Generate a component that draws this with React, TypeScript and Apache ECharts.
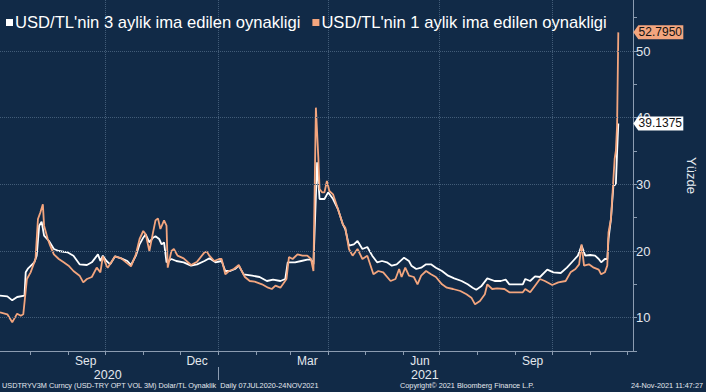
import React, { useEffect, useRef } from "react";
import * as echarts from "echarts";

// Calendar: day 0 = 2020-07-07; axis runs to 2021-12-06
const START_UTC = Date.UTC(2020, 6, 7);
const TOTAL_DAYS = 517;

// Tick labels
const monthLabels = ["Sep", "Dec", "Mar", "Jun", "Sep"];
const monthLabelDates = ["2020-09-15", "2020-12-15", "2021-03-15", "2021-06-15", "2021-09-15"];
const yearLabels = ["2020", "2021"];
const yearLabelDates = ["2020-10-03", "2021-06-19"];
const yearSeparatorDates = ["2021-01-01"];
const quarterGridDates = ["2020-10-01", "2021-01-01", "2021-04-01", "2021-07-01", "2021-10-01"];
const yGridValues = [10, 20, 30, 40, 50];

// USD/TL 3M implied vol (day offset from 2020-07-07, value)
const days3m = [0, 6, 10, 14, 20, 21, 23, 28, 30, 32, 34, 36, 40, 44, 48, 55, 60, 65, 71, 75, 80, 82, 84, 87, 90, 94, 99, 104, 107, 111, 114, 117, 119, 122, 125, 127, 130, 132, 134, 136, 140, 144, 150, 156, 161, 167, 171, 176, 181, 184, 188, 192, 195, 199, 206, 212, 218, 223, 229, 233, 235, 241, 246, 251, 254, 256, 259, 261, 265, 268, 272, 276, 280, 282, 285, 289, 292, 296, 300, 304, 308, 312, 316, 320, 324, 330, 334, 336, 340, 344, 348, 352, 356, 361, 366, 371, 377, 382, 386, 389, 393, 398, 404, 409, 413, 416, 421, 427, 429, 433, 437, 441, 447, 452, 458, 463, 468, 472, 475, 478, 482, 486, 489, 491, 494, 496, 497, 499, 501, 503, 504, 505];
const vol3m = [13.3, 13.2, 12.6, 13.1, 13.3, 16.8, 17.4, 18.3, 19.3, 23.8, 24.4, 22.3, 21.5, 20.3, 20.0, 19.8, 19.3, 18.0, 17.9, 18.3, 19.5, 18.5, 19.3, 18.5, 18.0, 19.2, 18.9, 18.5, 17.9, 19.3, 21.0, 22.0, 22.5, 21.3, 22.0, 22.2, 21.8, 21.0, 21.3, 18.3, 18.8, 18.5, 18.3, 17.8, 18.0, 18.5, 18.9, 18.3, 18.5, 17.0, 17.0, 17.3, 17.8, 16.5, 16.3, 16.1, 15.5, 15.7, 15.5, 15.8, 18.3, 18.3, 18.5, 18.7, 18.7, 18.0, 33.3, 27.8, 27.8, 28.8, 27.8, 26.3, 24.0, 23.3, 20.8, 21.0, 21.5, 20.3, 20.6, 19.3, 18.3, 18.5, 18.3, 17.8, 18.0, 19.0, 18.5, 17.8, 17.3, 17.5, 18.0, 18.0, 17.5, 17.0, 16.3, 15.9, 15.5, 15.0, 14.5, 14.2, 14.7, 15.9, 15.5, 15.5, 15.7, 15.0, 15.0, 15.0, 15.8, 15.5, 16.2, 16.1, 17.2, 16.8, 16.7, 17.5, 18.5, 19.3, 20.8, 19.3, 19.4, 19.3, 18.8, 18.3, 18.8, 18.8, 21.8, 24.8, 29.8, 30.0, 34.8, 39.1375];

// USD/TL 1M implied vol (day offset from 2020-07-07, value)
const days1m = [0, 6, 10, 14, 17, 19, 22, 25, 29, 31, 33, 35, 36, 39, 41, 44, 48, 52, 56, 60, 65, 68, 71, 75, 79, 82, 84, 87, 88, 94, 99, 107, 111, 114, 117, 119, 122, 125, 127, 129, 131, 134, 136, 137, 140, 142, 145, 150, 156, 161, 167, 169, 171, 175, 179, 181, 184, 187, 191, 195, 198, 200, 204, 208, 214, 219, 222, 225, 229, 231, 234, 236, 239, 243, 247, 251, 254, 256, 258, 260, 261, 263, 265, 267, 269, 272, 276, 280, 282, 285, 288, 292, 296, 300, 305, 309, 313, 319, 323, 326, 328, 331, 334, 338, 341, 344, 348, 352, 356, 361, 365, 370, 376, 381, 385, 388, 392, 396, 398, 402, 406, 412, 416, 421, 427, 429, 433, 437, 441, 445, 451, 456, 462, 466, 470, 473, 475, 477, 481, 485, 489, 491, 494, 496, 497, 499, 501, 502, 503, 504, 505];
const vol1m = [10.8, 10.5, 9.3, 10.6, 10.3, 10.5, 15.8, 16.8, 18.8, 24.8, 25.8, 27.0, 23.8, 21.8, 20.8, 19.5, 18.8, 18.3, 17.8, 17.0, 16.3, 15.3, 15.8, 16.1, 17.5, 16.8, 19.2, 17.8, 17.5, 19.2, 18.9, 17.7, 19.5, 21.8, 23.0, 22.5, 20.0, 22.8, 24.6, 24.9, 23.3, 24.6, 23.8, 17.5, 20.0, 20.3, 19.3, 18.9, 17.9, 18.4, 19.8, 19.9, 19.3, 18.5, 18.8, 18.8, 16.5, 17.0, 17.3, 17.9, 16.8, 16.1, 15.5, 15.4, 15.0, 14.5, 14.3, 14.8, 14.5, 15.0, 15.8, 19.1, 18.8, 19.5, 19.3, 19.3, 18.8, 17.0, 41.5, 34.0, 29.3, 28.8, 28.8, 30.5, 29.0, 28.5, 26.3, 24.0, 23.5, 20.3, 19.3, 20.3, 18.8, 19.3, 16.5, 17.0, 16.8, 15.5, 15.8, 17.3, 16.1, 17.5, 16.3, 16.1, 15.0, 16.3, 17.0, 16.5, 16.1, 15.0, 14.5, 14.3, 14.0, 13.5, 13.0, 12.0, 12.5, 13.5, 15.0, 14.3, 14.4, 14.3, 13.8, 13.8, 13.8, 14.3, 13.8, 14.8, 15.8, 15.5, 14.9, 15.3, 15.5, 16.8, 17.3, 18.0, 21.0, 17.8, 18.0, 17.5, 17.2, 16.5, 16.8, 17.8, 22.8, 24.8, 30.8, 33.8, 35.0, 38.8, 52.795];

const seriesNames = ["USD/TL'nin 3 aylik ima edilen oynakligi", "USD/TL'nin 1 aylik ima edilen oynakligi"];

const fmt = (d: Date) => d.toISOString().slice(0, 10);
const categories = Array.from({ length: TOTAL_DAYS + 1 }, (_, i) => fmt(new Date(START_UTC + i * 86400000)));

const FONT = "'Liberation Sans', Arial, sans-serif";
const BG = "#112a47";
const AXIS = "#8c9cb1";
const GRID = "#425c78";
const TXT = "#e3e8ee";
const WHITE = "#ffffff";
const ORANGE = "#f3a57e";

const tagPath = "path://M0,6 L5,0 L50,0 L50,12 L5,12 Z";

export default function App() {
  const ref = useRef<HTMLDivElement>(null);
  useEffect(() => {
    if (!ref.current) return;
    const chart = echarts.init(ref.current, undefined, { renderer: "svg" });
    const pairs = (days: number[], vals: number[]) => days.map((d, i) => [categories[d], vals[i]]);
    const last3 = categories[days3m[days3m.length - 1]];
    const last1 = categories[days1m[days1m.length - 1]];
    const v3 = vol3m[vol3m.length - 1];
    const v1 = vol1m[vol1m.length - 1];
    const tag = (x: string, v: number, fill: string) => ({
      symbol: tagPath,
      symbolSize: [50, 14],
      symbolKeepAspect: false,
      symbolOffset: [40, 0],
      silent: true,
      animation: false,
      data: [{ coord: [x, v], value: v }],
      itemStyle: { color: fill },
      label: {
        show: true,
        position: "inside",
        offset: [2, 0],
        formatter: () => v.toFixed(4),
        color: "#111",
        fontFamily: FONT,
        fontSize: 12,
      },
    });
    chart.setOption({
      animation: false,
      backgroundColor: BG,
      textStyle: { fontFamily: FONT },
      legend: {
        left: 1,
        top: 9,
        icon: "rect",
        itemWidth: 7,
        itemHeight: 7,
        itemGap: 12,
        textStyle: { color: WHITE, fontSize: 16.6, fontFamily: FONT, padding: [0, 0, 0, -3] },
        data: seriesNames,
      },
      grid: { left: -1, right: 68, top: 0, bottom: 41, containLabel: false },
      xAxis: [
        {
          type: "category",
          data: categories,
          boundaryGap: false,
          axisLine: { show: true, lineStyle: { color: AXIS, width: 1 } },
          axisTick: {
            show: true,
            length: 4,
            interval: (_i: number, v: string) => v.endsWith("-01"),
            lineStyle: { color: AXIS },
          },
          axisLabel: {
            interval: (_i: number, v: string) => monthLabelDates.includes(v),
            formatter: (v: string) => monthLabels[monthLabelDates.indexOf(v)] ?? "",
            color: TXT,
            fontSize: 12,
            fontFamily: FONT,
            margin: 4,
          },
          splitLine: {
            show: true,
            interval: (_i: number, v: string) => quarterGridDates.includes(v),
            lineStyle: { color: GRID, type: "dotted", width: 1 },
          },
        },
        {
          type: "category",
          data: categories,
          boundaryGap: false,
          position: "bottom",
          offset: 16,
          axisLine: { show: false },
          axisTick: {
            show: true,
            length: 13,
            interval: (_i: number, v: string) => yearSeparatorDates.includes(v),
            lineStyle: { color: AXIS },
          },
          axisLabel: {
            interval: (_i: number, v: string) => yearLabelDates.includes(v),
            formatter: (v: string) => yearLabels[yearLabelDates.indexOf(v)] ?? "",
            color: TXT,
            fontSize: 12.5,
            fontFamily: FONT,
            margin: 1,
          },
          splitLine: { show: false },
        },
      ],
      yAxis: {
        type: "value",
        position: "right",
        min: 5,
        max: 57.65,
        interval: 5,
        axisLine: { show: true, lineStyle: { color: AXIS, width: 1 } },
        axisTick: { show: true, length: 4, lineStyle: { color: AXIS } },
        axisLabel: {
          formatter: (v: number) => (v % 10 === 0 ? String(v) : ""),
          color: TXT,
          fontSize: 13,
          fontFamily: FONT,
          margin: 3,
          showMaxLabel: false,
        },
        splitLine: { show: false },
        name: "Yüzde",
        nameLocation: "middle",
        nameRotate: -90,
        nameGap: 52,
        nameTextStyle: { color: TXT, fontSize: 13, fontFamily: FONT },
      },
      series: [
        {
          type: "line",
          name: "grid",
          data: [],
          z: 1,
          silent: true,
          markLine: {
            silent: true,
            symbol: "none",
            label: { show: false },
            lineStyle: { color: GRID, type: "dotted", width: 1 },
            data: yGridValues.map((v) => ({ yAxis: v })),
          },
        },
        {
          type: "line",
          name: seriesNames[0],
          data: pairs(days3m, vol3m),
          showSymbol: false,
          symbol: "none",
          z: 3,
          color: WHITE,
          lineStyle: { color: WHITE, width: 1.8 },
          markPoint: tag(last3, v3, WHITE),
        },
        {
          type: "line",
          name: seriesNames[1],
          data: pairs(days1m, vol1m),
          showSymbol: false,
          symbol: "none",
          z: 4,
          color: ORANGE,
          lineStyle: { color: ORANGE, width: 1.8 },
          markPoint: tag(last1, v1, ORANGE),
        },
      ],
      graphic: [
        {
          type: "text",
          left: 2,
          top: 382,
          style: { text: "USDTRYV3M Curncy (USD-TRY OPT VOL 3M) Dolar/TL Oynaklik  Daily 07JUL2020-24NOV2021", fill: TXT, fontSize: 7.3, fontFamily: FONT },
        },
        {
          type: "text",
          left: 400,
          top: 382,
          style: { text: "Copyright© 2021 Bloomberg Finance L.P.", fill: TXT, fontSize: 7.3, fontFamily: FONT },
        },
        {
          type: "text",
          right: 3,
          top: 382,
          style: { text: "24-Nov-2021 11:47:27", fill: TXT, fontSize: 7.3, fontFamily: FONT },
        },
      ],
    });
    return () => chart.dispose();
  }, []);
  return <div ref={ref} style={{ width: 706, height: 392, position: "absolute", left: 0, top: 0 }} />;
}
